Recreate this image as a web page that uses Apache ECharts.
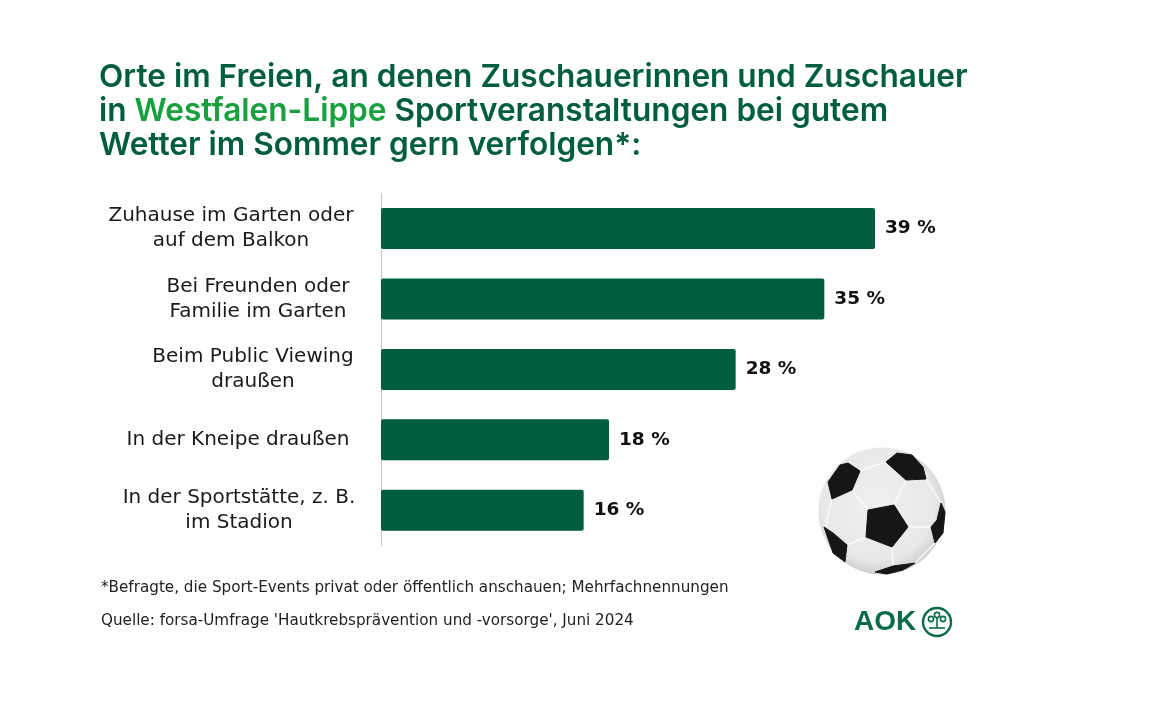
<!DOCTYPE html>
<html>
<head>
<meta charset="utf-8">
<title>Orte im Freien</title>
<script src="https://cdn.jsdelivr.net/npm/echarts@6/dist/echarts.min.js"></script>
<style>
  html, body { margin: 0; padding: 0; background: #fff; }
  #container { width: 1152px; height: 720px; }
</style>
</head>
<body>
<div id="container"></div>
<script>
var categories = [
  'Zuhause im Garten oder\nauf dem Balkon',
  'Bei Freunden oder\nFamilie im Garten',
  'Beim Public Viewing\ndraußen',
  'In der Kneipe draußen',
  'In der Sportstätte, z. B.\nim Stadion'
];
var values = [39, 35, 28, 18, 16];
var labelBoxWidths = [288, 234, 244, 274, 272]; // each label has its own centre in the original

var titleLines = [
  '{d|Orte im Freien, an denen Zuschauerinnen und Zuschauer}',
  '{d|in }{g|Westfalen-Lippe}{d| Sportveranstaltungen bei gutem}',
  '{d|Wetter im Sommer gern verfolgen*:}'
];
var footnote = '*Befragte, die Sport-Events privat oder öffentlich anschauen; Mehrfachnennungen';
var source = "Quelle: forsa-Umfrage 'Hautkrebsprävention und -vorsorge', Juni 2024";

var darkGreen = '#005e3f';
var titleFont = 'Inter';
var bodyFont = '"DejaVu Sans"';

// football patches
var ballPatches = [
  [[868,510],[894,505],[908,527],[892,547],[866,537]],
  [[886,462],[897,453],[912,455],[923,467],[926,479],[906,480]],
  [[828,482],[840,465],[848,463],[860,471],[852,490],[832,499]],
  [[941,503],[945,512],[943,533],[935,543],[931,527],[937,520]],
  [[824,527],[833,533],[847,545],[845,562],[833,553]],
  [[875,572],[893,566],[915,563],[903,570],[887,574]]
];
var ballSeams = [
  [[860,471],[886,462]], [[906,480],[894,505]], [[852,490],[868,510]],
  [[832,499],[828,515],[826,527]], [[866,537],[847,545]], [[892,547],[893,566]],
  [[908,527],[931,527]], [[926,479],[941,503]], [[847,545],[845,562]], [[893,566],[875,572]],
  [[915,563],[935,543]], [[893,566],[915,563]]
];

function ballGraphics() {
  var list = [{
    type: 'circle', shape: { cx: 882, cy: 511, r: 63.5 },
    style: {
      fill: new echarts.graphic.RadialGradient(0.47, 0.45, 0.55, [
        { offset: 0, color: '#f0f0f0' },
        { offset: 0.8, color: '#e8e8e8' },
        { offset: 1, color: '#cfcfcf' }
      ])
    }
  }];
  ballSeams.forEach(function (s) {
    list.push({ type: 'polyline', shape: { points: s }, style: { stroke: '#fafafa', lineWidth: 1.5, fill: null } });
  });
  ballPatches.forEach(function (p) {
    list.push({ type: 'polygon', shape: { points: p }, style: { fill: '#161616', stroke: '#161616', lineWidth: 1, lineJoin: 'round' } });
  });
  return list;
}

function logoGraphics() {
  var green = '#0b6b4a';
  return [
    { type: 'text', x: 854, y: 622, style: { text: 'AOK', fill: green, verticalAlign: 'middle', font: 'bold 28px "Liberation Sans"' } },
    { type: 'circle', shape: { cx: 937, cy: 622, r: 14 }, style: { fill: 'none', stroke: green, lineWidth: 2.4 } },
    { type: 'circle', shape: { cx: 937, cy: 615, r: 2.6 }, style: { fill: 'none', stroke: green, lineWidth: 1.6 } },
    { type: 'circle', shape: { cx: 931, cy: 619, r: 2.6 }, style: { fill: 'none', stroke: green, lineWidth: 1.6 } },
    { type: 'circle', shape: { cx: 943, cy: 619, r: 2.6 }, style: { fill: 'none', stroke: green, lineWidth: 1.6 } },
    { type: 'line', shape: { x1: 937, y1: 618, x2: 937, y2: 628 }, style: { stroke: green, lineWidth: 1.6 } },
    { type: 'line', shape: { x1: 929, y1: 628, x2: 945, y2: 628 }, style: { stroke: green, lineWidth: 1.6 } }
  ];
}

var rich = {};
labelBoxWidths.forEach(function (w, i) {
  rich['r' + i] = { width: w, align: 'center', fontFamily: bodyFont, fontSize: 20, lineHeight: 25, color: '#1a1a1a' };
});

var myChart = echarts.init(document.getElementById('container'), null, { renderer: 'canvas' });

var option = {
  backgroundColor: '#fff',
  animation: false,
  title: {
    left: 94,
    top: 55,
    text: titleLines.join('\n'),
    textStyle: {
      rich: {
        d: { color: darkGreen, fontFamily: titleFont, fontWeight: 600, fontSize: 31.6, lineHeight: 34 },
        g: { color: '#18a03f', fontFamily: titleFont, fontWeight: 600, fontSize: 31.6, lineHeight: 34 }
      }
    }
  },
  grid: { left: 381, top: 193.4, width: 760, height: 352 },
  xAxis: { type: 'value', min: 0, max: 60, show: false },
  yAxis: {
    type: 'category',
    inverse: true,
    data: categories,
    axisTick: { show: false },
    axisLine: { lineStyle: { color: '#c4c4c4', width: 1 } },
    axisLabel: {
      margin: 6,
      formatter: function (value, idx) {
        return value.split('\n').map(function (l) { return '{r' + idx + '|' + l + '}'; }).join('\n');
      },
      rich: rich
    }
  },
  series: [{
    type: 'bar',
    data: values,
    barWidth: 41,
    itemStyle: { color: darkGreen, borderRadius: 2 },
    label: {
      show: true,
      position: 'right',
      distance: 10,
      formatter: '{c} %',
      color: '#111',
      fontFamily: bodyFont,
      fontWeight: 'bold',
      fontSize: 18.5
    }
  }],
  graphic: [
    { type: 'text', left: 101, top: 581, style: { text: footnote, fill: '#222', font: '15.2px ' + bodyFont } },
    { type: 'text', left: 101, top: 614, style: { text: source, fill: '#222', font: '15.2px ' + bodyFont } }
  ].concat(ballGraphics(), logoGraphics())
};

myChart.setOption(option);
</script>
</body>
</html>
